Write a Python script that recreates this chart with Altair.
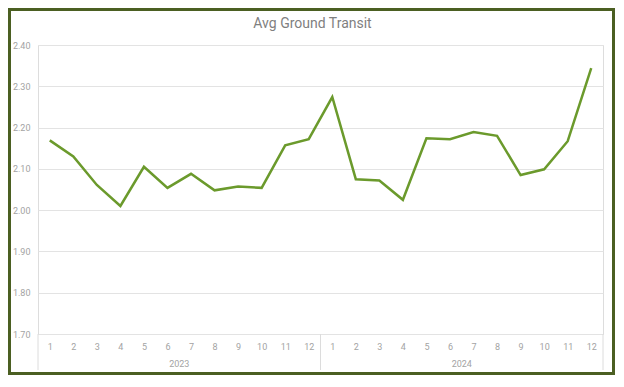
import altair as alt
import pandas as pd

title = "Avg Ground Transit"
years = ["2023", "2024"]
months = ["1", "2", "3", "4", "5", "6", "7", "8", "9", "10", "11", "12"]
values_2023 = [2.169, 2.130, 2.061, 2.010, 2.105, 2.054, 2.088, 2.048, 2.057, 2.054, 2.157, 2.172]
values_2024 = [2.274, 2.075, 2.072, 2.025, 2.174, 2.172, 2.189, 2.180, 2.085, 2.099, 2.167, 2.344]
y_ticks = [1.70, 1.80, 1.90, 2.00, 2.10, 2.20, 2.30, 2.40]

W, H = 565, 289
LINE = "#6b9a2c"
BORDER = "#4b5f22"
GRID = "#e3e3e3"
TXT = "#a3a3a3"
FONT = "Liberation Sans Narrow, Roboto, sans-serif"

rows = []
labels = []
for yi, (yr, vals) in enumerate(zip(years, [values_2023, values_2024])):
    for mi, (m, v) in enumerate(zip(months, vals)):
        rows.append({"idx": yi * len(months) + mi, "year": yr, "month": m, "value": v})
        labels.append(m)
df = pd.DataFrame(rows)
n = len(df)

year_df = pd.DataFrame({"year": years, "center": [i * len(months) + (len(months) - 1) / 2 for i in range(len(years))]})
sep_df = pd.DataFrame({"pos": [i * len(months) - 0.5 for i in range(len(years) + 1)]})

label_expr = "[" + ",".join(f"'{l}'" for l in labels) + "][datum.value]"

xscale = alt.Scale(domain=[-0.5, n - 0.5], nice=False, zero=False)
yscale = alt.Scale(domain=[1.70, 2.40], nice=False, zero=False)

x_axis = alt.Axis(values=list(range(n)), labelExpr=label_expr, grid=False, ticks=False,
                  domain=True, domainColor=GRID, labelColor=TXT, labelFontSize=9,
                  labelFont=FONT, labelPadding=8, labelOverlap=False, labelFlush=False,
                  labelBound=False, title=None)

line = alt.Chart(df).mark_line(color=LINE, strokeWidth=2.5).encode(
    x=alt.X("idx:Q", scale=xscale, title=None, axis=x_axis),
    y=alt.Y("value:Q", scale=yscale, title=None,
            axis=alt.Axis(values=y_ticks, format=".2f", grid=True, gridColor=GRID, domain=False,
                          ticks=False, labelColor=TXT, labelFontSize=9, labelFont=FONT, labelPadding=8,
                          labelOverlap=False, labelFlush=False)),
)

seps = alt.Chart(sep_df).mark_rule(color="#dcdcdc", strokeWidth=1).encode(
    x=alt.X("pos:Q", scale=xscale, title=None, axis=x_axis),
    y=alt.value(H),
    y2=alt.value(H + 36),
)

year_text = alt.Chart(year_df).mark_text(color=TXT, fontSize=9, font=FONT, baseline="middle").encode(
    x=alt.X("center:Q", scale=xscale, title=None, axis=x_axis),
    y=alt.value(H + 30),
    text="year:N",
)

title_df = pd.DataFrame({"t": [title]})
title_text = alt.Chart(title_df).mark_text(color="#7f7f7f", fontSize=14, font=FONT, baseline="middle",
                                           align="center").encode(
    x=alt.value(W / 2 - 8), y=alt.value(-21), text="t:N",
)

border = alt.Chart(alt.Data(values=[{}])).mark_rect(fill="transparent", stroke=BORDER, strokeWidth=3).encode(
    x=alt.value(-28.5), x2=alt.value(W + 10.5),
    y=alt.value(-35.5), y2=alt.value(H + 39.5),
)

chart = alt.layer(border, line, seps, year_text, title_text).properties(
    width=W, height=H, padding=0,
).configure_view(strokeWidth=0).configure(background="white").configure_axisX(labelOverlap=False)

chart.save("out.html", embed_options={"renderer": "svg", "actions": False})
